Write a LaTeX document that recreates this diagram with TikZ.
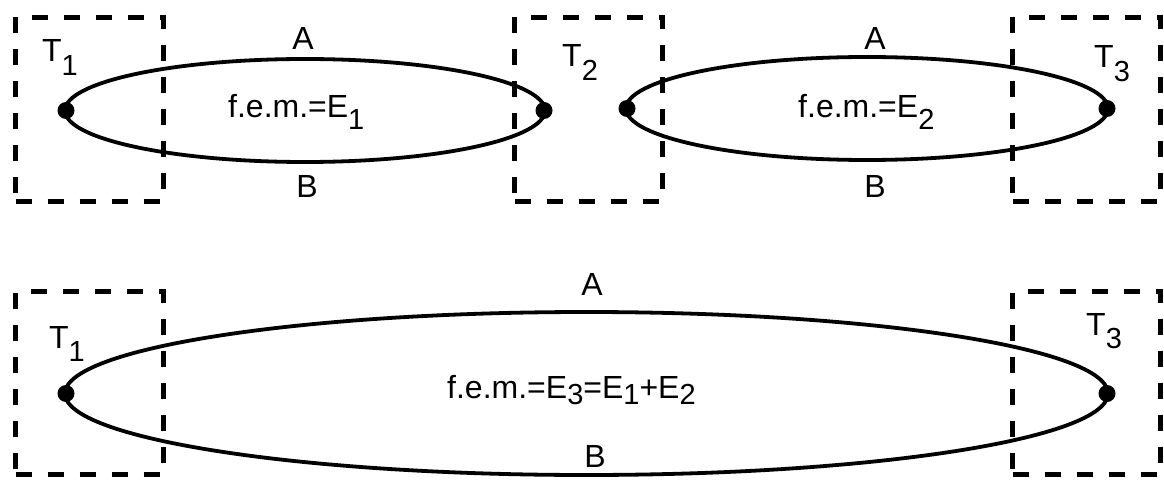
\documentclass[tikz,border=0pt]{standalone}
\usepackage{fontspec}
\setmainfont{Liberation Sans}
\newcommand\sbx[2]{\raisebox{-#1}{\fontsize{29}{29}\selectfont #2}}
\begin{document}
\begin{tikzpicture}[x=1pt,y=-1pt,
  tbox/.style={draw,dash pattern=on 16pt off 16pt,line width=5pt,minimum width=148pt,minimum height=184pt,inner sep=0pt,anchor=north west},
  loop/.style={line width=3.8pt},
  dotn/.style={circle,fill,inner sep=0pt,minimum size=17pt},
  lbl/.style={font=\fontsize{32}{34}\selectfont,inner sep=0pt,anchor=base west},
  clbl/.style={font=\fontsize{32}{34}\selectfont,inner sep=0pt,anchor=base}]
\fill[white] (0,0) rectangle (1164,481);
\useasboundingbox (0,0) rectangle (1164,481);
% top row boxes
\node[tbox] (b1) at (13,15) {};
\node[tbox] (b2) at (512,15) {};
\node[tbox] (b3) at (1010,15) {};
% bottom row boxes
\node[tbox,minimum height=183pt] (b4) at (13,289) {};
\node[tbox,minimum height=183pt] (b5) at (1010,289) {};
% loops
\draw[loop] (305,110.5) ellipse [x radius=240, y radius=51.5];
\draw[loop] (867,108.5) ellipse [x radius=241, y radius=51.5];
\draw[loop] (586.5,393.5) ellipse [x radius=521.5, y radius=81.5];
% dots
\node[dotn] (d1) at (66,110.5) {};
\node[dotn] (d2) at (544,110.5) {};
\node[dotn] (d3) at (627,108.5) {};
\node[dotn] (d4) at (1107,108.5) {};
\node[dotn] (d5) at (66,393.5) {};
\node[dotn] (d6) at (1107,393.5) {};
% labels
\node[lbl] (t1) at (42,62) {T\sbx{0.42em}{1}};
\node[lbl] (t2) at (562,67) {T\sbx{0.42em}{2}};
\node[lbl] (t3) at (1094,68) {T\sbx{0.42em}{3}};
\node[lbl] (t4) at (49,348) {T\sbx{0.42em}{1}};
\node[lbl] (t5) at (1086,335) {T\sbx{0.42em}{3}};
\node[clbl] (a1) at (303,50) {A};
\node[clbl] (bb1) at (307,197) {B};
\node[clbl] (a2) at (875,50) {A};
\node[clbl] (bb2) at (875,197) {B};
\node[clbl] (a3) at (592,295) {A};
\node[clbl] (bb3) at (595,467) {B};
\node[lbl] (e1) at (228,118) {f.e.m.=E\sbx{0.35em}{1}};
\node[lbl] (e2) at (798,118) {f.e.m.=E\sbx{0.35em}{2}};
\node[lbl] (e3) at (447,398) {f.e.m.=E\sbx{0.2em}{3}=E\sbx{0.2em}{1}+E\sbx{0.2em}{2}};
\end{tikzpicture}
\end{document}
